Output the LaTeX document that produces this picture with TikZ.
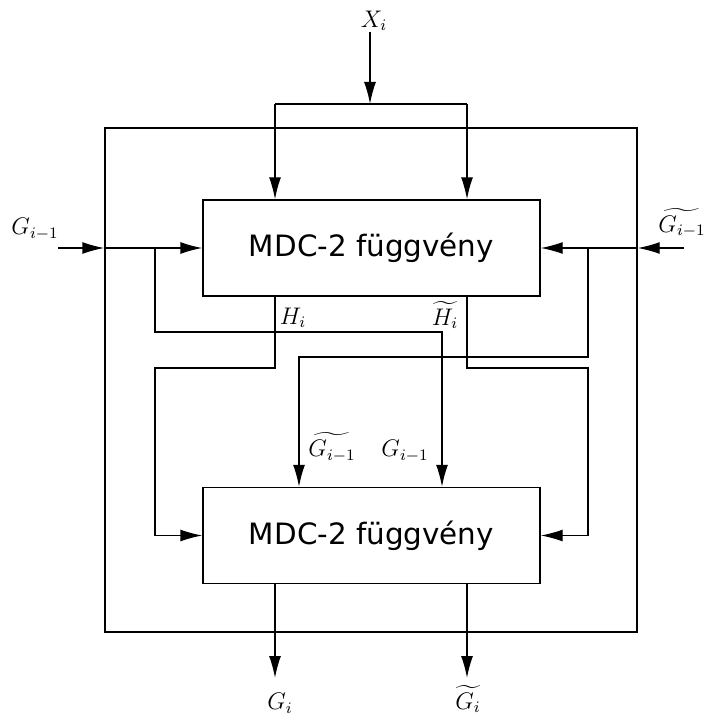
\documentclass[tikz,border=0pt]{standalone}
\usepackage{amsmath}
\usepackage{fontspec}
\usepackage{tikz}
\usetikzlibrary{arrows.meta}
\newfontfamily\mdcfont{DejaVu Sans}

\begin{document}
\begin{tikzpicture}[x=0.5pt, y=-0.5pt, line width=0.7pt,
  arr/.style={-{Latex[length=11pt, width=6pt]}},
  mdcbox/.style={draw, minimum width=168.5pt, minimum height=48pt, inner sep=0pt, font=\mdcfont\fontsize{14.7}{17}\selectfont},
  lbl/.style={inner sep=0pt, font=\large}]
  \useasboundingbox (0,0) rectangle (707,715);
  % outer frame and the two rounds
  \node[draw, minimum width=266pt, minimum height=252pt, inner sep=0pt] (frame) at (371,380) {};
  \node[mdcbox] (f1) at (371.5,248) {MDC-2 függvény};
  \node[mdcbox] (f2) at (371.5,535.5) {MDC-2 függvény};

  % labels
  \node[lbl] (xi) at (374,21) {$X_i$};
  \node[lbl] (gl) at (35,229) {$G_{i-1}$};
  \node[lbl] (gtl) at (682,223) {$\widetilde{G_{i-1}}$};
  \node[lbl] (hl) at (293,318) {$H_i$};
  \node[lbl] (htl) at (445,315) {$\widetilde{H_i}$};
  \node[lbl] (gtm) at (332,447) {$\widetilde{G_{i-1}}$};
  \node[lbl] (gm) at (405,451) {$G_{i-1}$};
  \node[lbl] (gout) at (280,703) {$G_i$};
  \node[lbl] (gtout) at (468,699) {$\widetilde{G_i}$};

  % junction points
  \coordinate (xtop) at (370,104);
  \coordinate (c1) at (275,104);
  \coordinate (c2) at (467,104);
  \coordinate (gin) at (58,248);
  \coordinate (gtin) at (684,248);
  \coordinate (lb) at (155,248);
  \coordinate (rb) at (588,248);
  \coordinate (ga) at (442,332);
  \coordinate (gb) at (299,357);
  \coordinate (h1) at (275,368);
  \coordinate (h2) at (155,368);
  \coordinate (ht1) at (467,368);
  \coordinate (ht2) at (588,368);
  \coordinate (o1) at (275,678);
  \coordinate (o2) at (467,678);

  % message block
  \draw[arr] (xi.south -| xtop) -- (xtop);
  \draw (c1) -- (c2);
  \draw[arr] (c1) -- (c1 |- f1.north);
  \draw[arr] (c2) -- (c2 |- f1.north);

  % chaining values in
  \draw[arr] (gin) -- (gin -| frame.west);
  \draw[arr] (gin -| frame.west) -- (f1.west);
  \draw[arr] (gtin) -- (gtin -| frame.east);
  \draw[arr] (gtin -| frame.east) -- (f1.east);
  \draw[arr] (lb) |- (ga) -- (ga |- f2.north);
  \draw[arr] (rb) |- (gb) -- (gb |- f2.north);

  % first round out
  \draw[arr] (h1 |- f1.south) -- (h1) -- (h2) |- (f2.west);
  \draw[arr] (ht1 |- f1.south) -- (ht1) -- (ht2) |- (f2.east);

  % outputs
  \draw[arr] (o1 |- f2.south) -- (o1);
  \draw[arr] (o2 |- f2.south) -- (o2);
\end{tikzpicture}
\end{document}
